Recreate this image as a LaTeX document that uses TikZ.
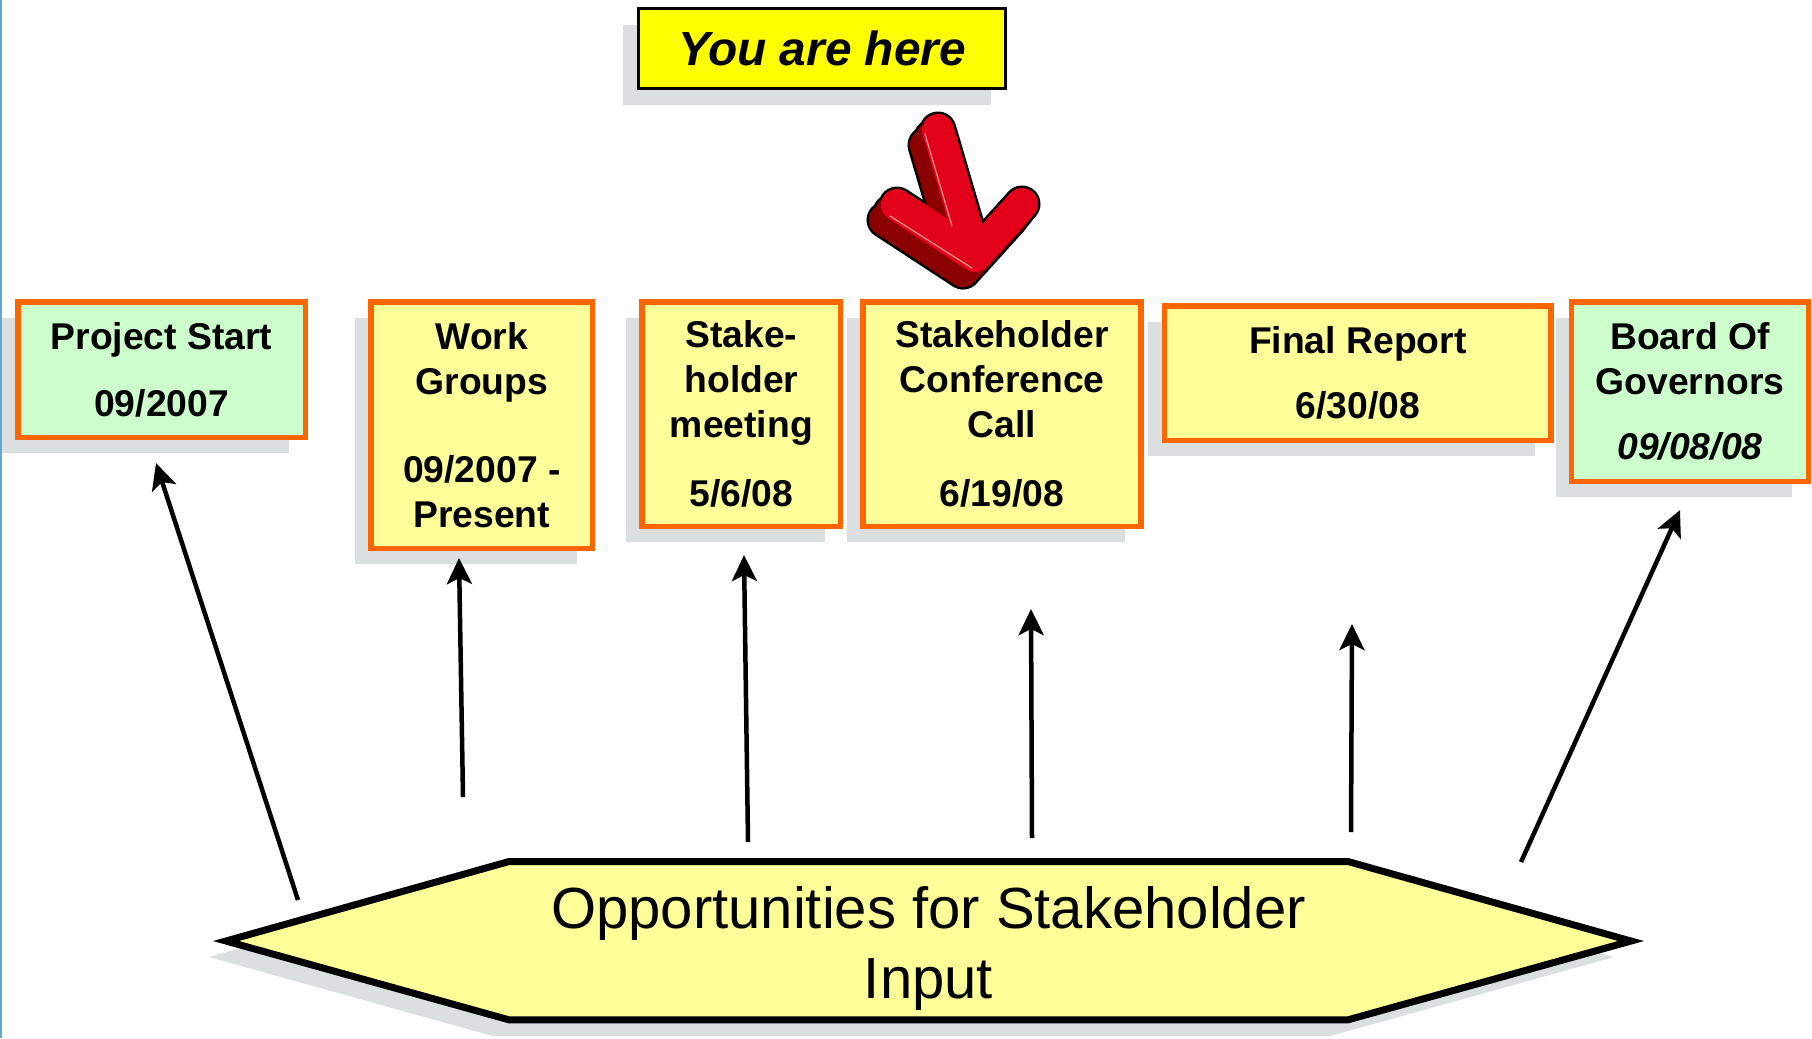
\documentclass[tikz,border=0pt]{standalone}
\usepackage{fontspec}
\setmainfont{Liberation Sans}
\usetikzlibrary{positioning,shadows,arrows.meta}
\definecolor{boxorange}{RGB}{255,102,0}
\definecolor{boxyellow}{RGB}{255,255,153}
\definecolor{boxgreen}{RGB}{204,255,204}
\definecolor{shadowgray}{RGB}{220,223,223}
\definecolor{hereyellow}{RGB}{255,255,0}
\definecolor{arrowred}{RGB}{226,0,26}
\definecolor{arrowdark}{RGB}{139,0,0}
\definecolor{arrowpink}{RGB}{255,150,150}
\definecolor{edgeblue}{RGB}{100,165,210}
\begin{document}
\begin{tikzpicture}[x=0.01cm,y=-0.01cm]
	\tikzstyle{rect1} = [rectangle,line width=0.055cm,draw=boxorange,fill=boxgreen,
	inner sep=0pt,outer sep=0pt,align=center,font=\bfseries\fontsize{10.6}{12.8}\selectfont,
	drop shadow={shadow xshift=-0.16cm,shadow yshift=-0.16cm,fill=shadowgray,opacity=1}]
	\tikzstyle{rect2} = [rect1,fill=boxyellow]
	\tikzstyle{arrow1} = [line width=0.045cm,-{Stealth[length=0.26cm,width=0.25cm,inset=0.06cm]}]
	\tikzstyle{redline} = [line cap=round,line join=round,line width=0.32cm]

	\useasboundingbox (0,0) rectangle (1812,1038);
	\draw[edgeblue,line width=0.02cm] (1,0) -- (1,1038);

	% milestones
	\node (node1) [rect1,minimum width=2.875cm,minimum height=1.355cm,anchor=north west] at (17.75,301.75) {Project Start\\[0.22cm]09/2007};
	\node (node2) [rect2,minimum width=2.215cm,minimum height=2.465cm,right=0.655cm of node1.north east,anchor=north west] {Work\\Groups\\[0.43cm]09/2007 -\\Present};
	\node (node3) [rect2,minimum width=1.985cm,minimum height=2.245cm,right=0.495cm of node2.north east,anchor=north west] {Stake-\\holder\\meeting\\[0.24cm]5/6/08};
	\node (node4) [rect2,minimum width=2.775cm,minimum height=2.245cm,right=0.225cm of node3.north east,anchor=north west] {Stakeholder\\Conference\\Call\\[0.24cm]6/19/08};
	\node (node5) [rect2,minimum width=3.865cm,minimum height=1.345cm,right=0.235cm of node4.north east,anchor=north west,yshift=-0.04cm] {Final Report\\[0.2cm]6/30/08};
	\node (node6) [rect1,minimum width=2.365cm,minimum height=1.795cm,right=0.205cm of node5.north east,anchor=north west,yshift=0.04cm] {Board Of\\Governors\\[0.2cm]\textit{09/08/08}};

	\node (node7) [rectangle,line width=0.03cm,draw=black,fill=hereyellow,minimum width=3.67cm,minimum height=0.80cm,inner sep=0pt,
	font=\bfseries\itshape\fontsize{13.6}{16}\selectfont,
	drop shadow={shadow xshift=-0.15cm,shadow yshift=-0.16cm,fill=shadowgray,opacity=1}] at (822,48.5) {You are here};

	% red arrow
	\draw[redline,line width=0.37cm,black,xshift=-0.12cm,yshift=-0.15cm] (938,130) -- (975,256) (897,205) -- (975,256) -- (1022,204);
	\draw[redline,line width=0.37cm,black,xshift=-0.06cm,yshift=-0.075cm] (938,130) -- (975,256) (897,205) -- (975,256) -- (1022,204);
	\draw[redline,line width=0.37cm,black] (938,130) -- (975,256) (897,205) -- (975,256) -- (1022,204);
	\draw[redline,arrowdark,xshift=-0.12cm,yshift=-0.15cm] (938,130) -- (975,256) (897,205) -- (975,256) -- (1022,204);
	\draw[redline,arrowdark,xshift=-0.06cm,yshift=-0.075cm] (938,130) -- (975,256) (897,205) -- (975,256) -- (1022,204);
	\draw[redline,arrowred] (938,130) -- (975,256) (897,205) -- (975,256) -- (1022,204);
	\draw[arrowpink,line width=0.012cm,line cap=round] (925,134) -- (952,226) (890,216) -- (972,268);

	% stakeholder input
	\fill[shadowgray,xshift=-0.17cm,yshift=-0.16cm] (226,941) -- (509,861.5) -- (1348,861.5) -- (1631,941) -- (1348,1019.8) -- (509,1019.8) -- cycle;
	\draw[line width=0.07cm,fill=boxyellow] (226,941) -- (509,861.5) -- (1348,861.5) -- (1631,941) -- (1348,1019.8) -- (509,1019.8) -- cycle;
	\node (node8) [font=\fontsize{16.5}{19.9}\selectfont,align=center,inner sep=0pt] at (928.5,948) {Opportunities for Stakeholder\\Input};

	\coordinate (from1) at (298,900);  \coordinate (to1) at (156,463);
	\coordinate (from2) at (463,797);  \coordinate (to2) at (459,558);
	\coordinate (from3) at (748,842);  \coordinate (to3) at (744,555);
	\coordinate (from4) at (1032,838); \coordinate (to4) at (1031,609);
	\coordinate (from5) at (1351,832); \coordinate (to5) at (1352,624);
	\coordinate (from6) at (1521,862); \coordinate (to6) at (1680,510);
	\draw[arrow1] (from1) -- (to1);
	\draw[arrow1] (from2) -- (to2);
	\draw[arrow1] (from3) -- (to3);
	\draw[arrow1] (from4) -- (to4);
	\draw[arrow1] (from5) -- (to5);
	\draw[arrow1] (from6) -- (to6);
\end{tikzpicture}
\end{document}
